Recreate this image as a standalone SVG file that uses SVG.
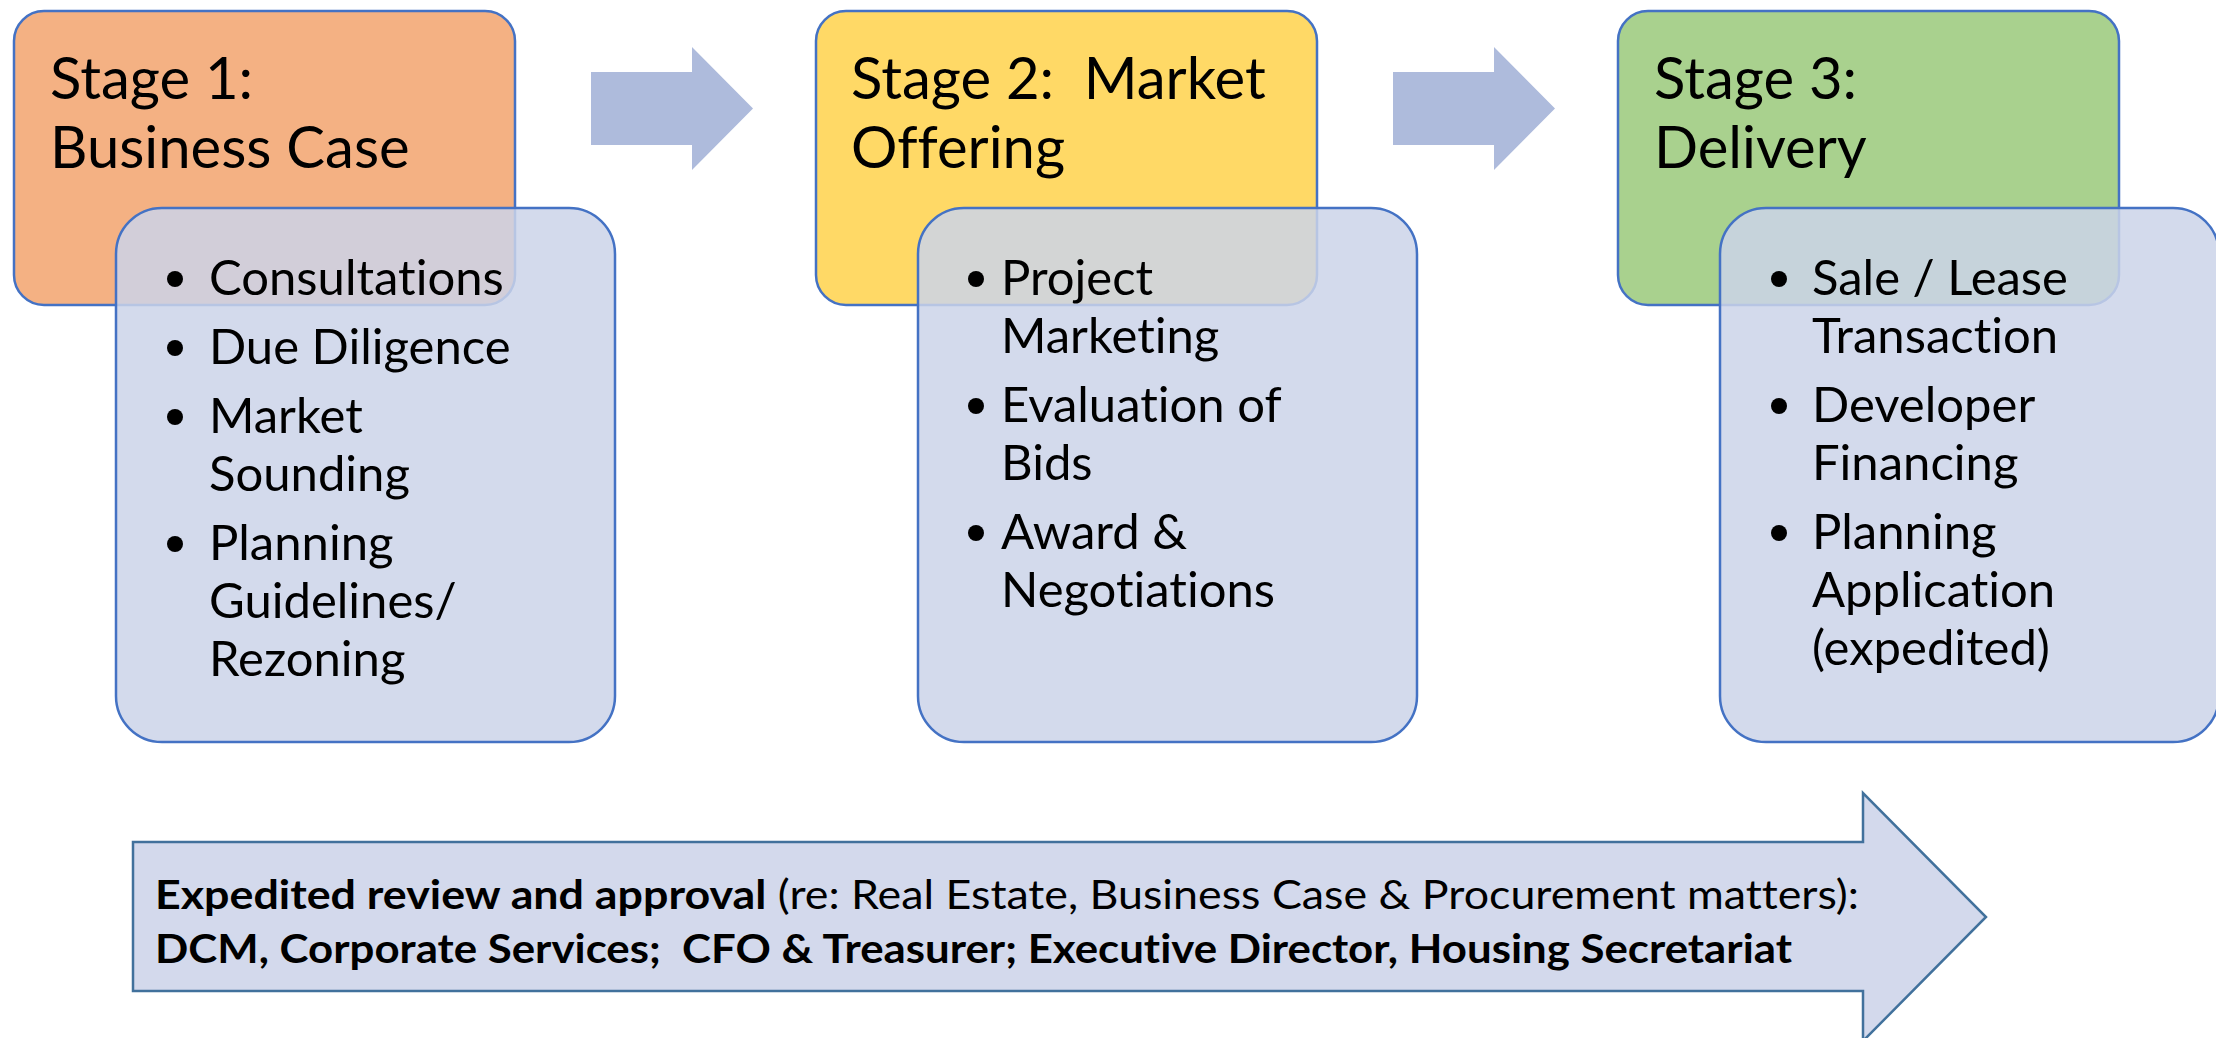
<svg xmlns="http://www.w3.org/2000/svg" width="2216" height="1038" viewBox="0 0 2216 1038">
<style>
.stage{stroke:#4472C4;stroke-width:2.5}
.list{fill:#CBD3E9;fill-opacity:0.85;stroke:#4472C4;stroke-width:2.5}
.flow{fill:#AEBBDC}
.t{font-family:Lato,"Liberation Sans",sans-serif;fill:#000;font-variant-ligatures:none;font-feature-settings:"liga" 0,"dlig" 0}
.h{font-size:58px}
.b{font-size:49px}
.note{font-size:40px}
.bold{font-weight:bold}
.dot{fill:#000}
</style>
<rect width="2216" height="1038" fill="#fff"/>
<g id="stage1">
<rect class="stage" x="14" y="11" width="501" height="294" rx="30" fill="#F4B183"/>
<text class="t h" x="50" y="99">Stage 1:</text>
<text class="t h" x="50" y="168">Business Case</text>
</g>
<g id="list1">
<rect class="list" x="116" y="208" width="499" height="534" rx="46"/>
<circle class="dot" cx="175" cy="279" r="8"/>
<circle class="dot" cx="175" cy="348" r="8"/>
<circle class="dot" cx="175" cy="417" r="8"/>
<circle class="dot" cx="175" cy="544" r="8"/>
<text class="t b" x="209" y="295">Consultations</text>
<text class="t b" x="209" y="364">Due Diligence</text>
<text class="t b" x="209" y="433">Market</text>
<text class="t b" x="209" y="491">Sounding</text>
<text class="t b" x="209" y="560">Planning</text>
<text class="t b" x="209" y="618">Guidelines/</text>
<text class="t b" x="209" y="676">Rezoning</text>
</g>
<g id="stage2">
<rect class="stage" x="816" y="11" width="501" height="294" rx="30" fill="#FFD966"/>
<text class="t h" x="851" y="99" style="white-space:pre">Stage 2:  Market</text>
<text class="t h" x="851" y="168">Offering</text>
</g>
<g id="list2">
<rect class="list" x="918" y="208" width="499" height="534" rx="46"/>
<circle class="dot" cx="976" cy="279" r="8"/>
<circle class="dot" cx="976" cy="406" r="8"/>
<circle class="dot" cx="976" cy="533" r="8"/>
<text class="t b" x="1001" y="295">Project</text>
<text class="t b" x="1001" y="353">Marketing</text>
<text class="t b" x="1001" y="422">Evaluation of</text>
<text class="t b" x="1001" y="480">Bids</text>
<text class="t b" x="1001" y="549">Award &amp;</text>
<text class="t b" x="1001" y="607">Negotiations</text>
</g>
<g id="stage3">
<rect class="stage" x="1618" y="11" width="501" height="294" rx="30" fill="#A9D18E"/>
<text class="t h" x="1654" y="99">Stage 3:</text>
<text class="t h" x="1654" y="168">Delivery</text>
</g>
<g id="list3">
<rect class="list" x="1720" y="208" width="499" height="534" rx="46"/>
<circle class="dot" cx="1779" cy="279" r="8"/>
<circle class="dot" cx="1779" cy="406" r="8"/>
<circle class="dot" cx="1779" cy="533" r="8"/>
<text class="t b" x="1812" y="295">Sale / Lease</text>
<text class="t b" x="1812" y="353">Transaction</text>
<text class="t b" x="1812" y="422">Developer</text>
<text class="t b" x="1812" y="480">Financing</text>
<text class="t b" x="1812" y="549">Planning</text>
<text class="t b" x="1812" y="607">Application</text>
<text class="t b" x="1812" y="665">(expedited)</text>
</g>
<g id="connectors">
<polygon class="flow" points="591,72 692,72 692,47 753,108.5 692,170 692,145 591,145"/>
<polygon class="flow" points="1393,72 1494,72 1494,47 1555,108.5 1494,170 1494,145 1393,145"/>
</g>
<g id="approval">
<polygon points="133,842 1863,842 1863,793 1986,917 1863,1041 1863,991 133,991" fill="#D3D9EC" stroke="#41719C" stroke-width="2.5"/>
<text class="t note" x="155" y="909" textLength="1704" lengthAdjust="spacingAndGlyphs"><tspan class="bold">Expedited review and approval</tspan> (re: Real Estate, Business Case &amp; Procurement matters):</text>
<text class="t note bold" x="155" y="963" textLength="1637" lengthAdjust="spacingAndGlyphs" style="white-space:pre">DCM, Corporate Services;  CFO &amp; Treasurer; Executive Director, Housing Secretariat</text>
</g>
</svg>
